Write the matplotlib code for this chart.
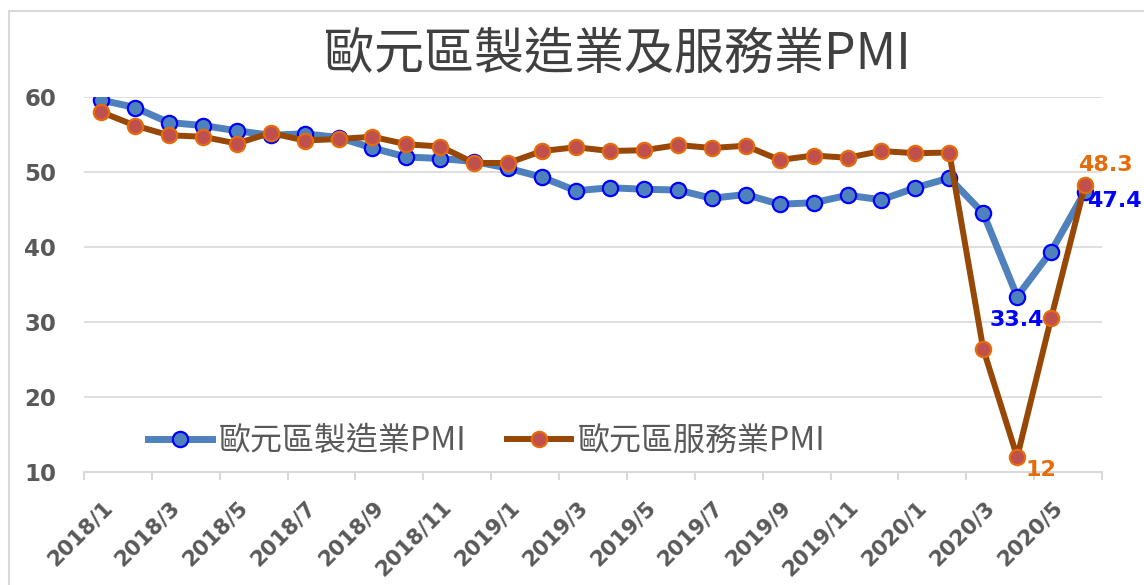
import matplotlib
matplotlib.use("Agg")
import matplotlib.pyplot as plt
import matplotlib.patches as patches
from matplotlib.transforms import ScaledTranslation

plt.rcParams['font.family'] = ['Noto Sans CJK TC', 'DejaVu Sans']

# 月份 2018/1 - 2020/6
months = []
for y in [2018, 2019, 2020]:
    for m in range(1, 13):
        if y == 2020 and m > 6:
            break
        months.append(f"{y}/{m}")

manufacturing = [59.6, 58.6, 56.6, 56.2, 55.5, 54.9, 55.1, 54.6, 53.2, 52.0, 51.8, 51.4,
                 50.5, 49.3, 47.5, 47.9, 47.7, 47.6, 46.5, 47.0, 45.7, 45.9, 46.9, 46.3,
                 47.9, 49.2, 44.5, 33.4, 39.4, 47.4]
services = [58.0, 56.2, 54.9, 54.7, 53.8, 55.2, 54.2, 54.4, 54.7, 53.7, 53.4, 51.2,
            51.2, 52.8, 53.3, 52.8, 52.9, 53.6, 53.2, 53.5, 51.6, 52.2, 51.9, 52.8,
            52.5, 52.6, 26.4, 12.0, 30.5, 48.3]

label_manu = "歐元區製造業PMI"
label_serv = "歐元區服務業PMI"
title = "歐元區製造業及服務業PMI"

W, H = 1144, 585
fig = plt.figure(figsize=(W / 100, H / 100), dpi=100)
ax = fig.add_axes([84 / W, 1 - 472 / H, (1102 - 84) / W, (472 - 97) / H])

x = list(range(len(months)))
ax.plot(x, manufacturing, color='#4F81BD', lw=5, marker='o', ms=11,
        mfc='#4F81BD', mec='#0000FF', mew=1.6, label=label_manu, zorder=3)
ax.plot(x, services, color='#974706', lw=4.3, marker='o', ms=11,
        mfc='#C0504D', mec='#E46C0A', mew=1.6, label=label_serv, zorder=4)

# 數據標籤
i = len(months) - 1
lbl = dict(textcoords='offset points', ha='center', va='center',
           fontsize=16, fontweight='bold', family=['DejaVu Sans'], zorder=6)
ax.annotate(f"{manufacturing[27]}", (27, manufacturing[27]), xytext=(0, -17), color='#0000FF', **lbl)
ax.annotate(f"{manufacturing[i]}", (i, manufacturing[i]), xytext=(21, -7), color='#0000FF', **lbl)
ax.annotate(f"{services[i]}", (i, services[i]), xytext=(15, 14), color='#E46C0A', **lbl)
ax.annotate(f"{services[27]:g}", (27, services[27]), xytext=(17, -9), color='#E46C0A', **lbl)

ax.set_xlim(-0.5, len(months) - 0.5)
ax.set_ylim(10, 60)
ax.set_yticks(range(10, 61, 10))
ax.set_xticks(x[::2])
ax.set_xticklabels(months[::2])
ax.set_xticks([k - 0.5 for k in range(0, len(months) + 1, 2)], minor=True)

ax.grid(axis='y', color='#D9D9D9', lw=1.2)
ax.set_axisbelow(True)
for s in ['top', 'right', 'left']:
    ax.spines[s].set_visible(False)
ax.spines['bottom'].set_color('#D9D9D9')
ax.spines['bottom'].set_linewidth(1.5)

ax.tick_params(axis='y', length=0, pad=20, labelsize=16.5, labelcolor='#595959')
ax.tick_params(axis='x', which='major', length=0, pad=23, labelsize=15.5, labelcolor='#595959')
ax.tick_params(axis='x', which='minor', length=6, width=1.5, color='#D9D9D9')
for t in ax.get_yticklabels():
    t.set_fontweight('bold')
    t.set_family(['DejaVu Sans'])
shift = ScaledTranslation(8 / 100, 0, fig.dpi_scale_trans)
for t in ax.get_xticklabels():
    t.set_fontweight('bold')
    t.set_family(['DejaVu Sans'])
    t.set_rotation(45)
    t.set_ha('right')
    t.set_va('center')
    t.set_rotation_mode('anchor')
    t.set_transform(t.get_transform() + shift)

ax.legend(loc='center left', bbox_to_anchor=(132 / W, 1 - 441 / H),
          bbox_transform=fig.transFigure, ncol=2, frameon=False, borderpad=0,
          fontsize=23, handlelength=2.0, handletextpad=0.2, columnspacing=1.3,
          labelcolor='#595959')

fig.text(617 / W, 1 - 55 / H, title, ha='center', va='center', fontsize=36,
         fontweight='medium', color='#404040')

# 圖表外框
fig.add_artist(patches.Rectangle((9 / W, -0.1), 1.2, 1 - 11 / H + 0.1,
                                 transform=fig.transFigure, fill=False,
                                 edgecolor='#D9D9D9', lw=1.5))

fig.savefig('out.png', dpi=100)
